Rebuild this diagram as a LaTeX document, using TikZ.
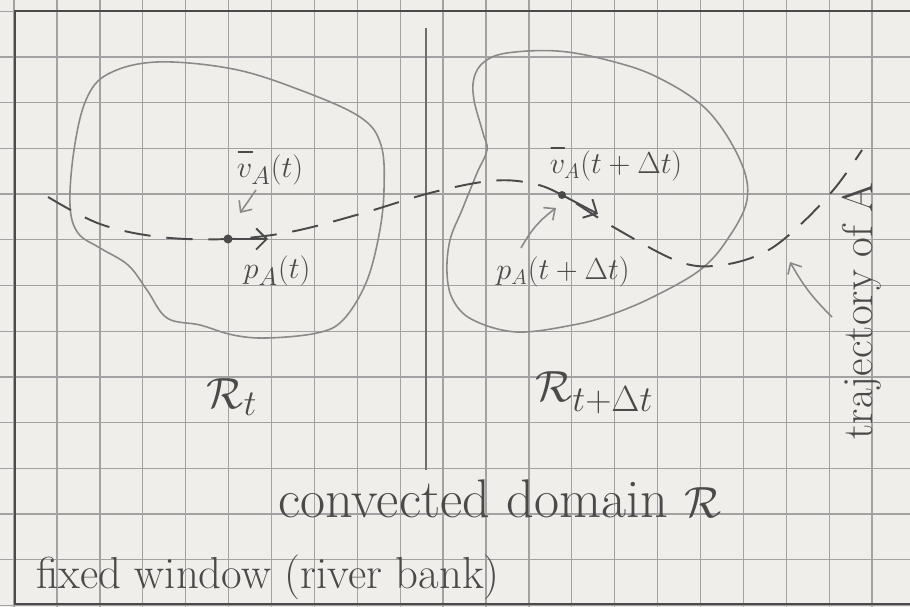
\documentclass[tikz,border=0pt]{standalone}
\usetikzlibrary{arrows.meta}
\definecolor{paper}{HTML}{EFEEEB}
\definecolor{gridgray}{HTML}{A2A2A2}
\definecolor{pencil}{HTML}{4A4A4A}
\definecolor{softpencil}{HTML}{8A8A8A}
\tikzset{
  gridline/.style={gridgray, line width=0.7pt},
  frameline/.style={pencil, line width=1.4pt},
  divider/.style={pencil!80, line width=1.1pt},
  region/.style={softpencil, line width=0.9pt},
  trajline/.style={pencil, line width=1.1pt, dash pattern=on 15pt off 9pt},
  vel/.style={pencil, line width=1.1pt, -{Straight Barb[length=6pt,width=12pt,line width=1.1pt]}},
  pointer/.style={softpencil, line width=0.9pt, -{Straight Barb[length=5pt,width=9pt,line width=0.9pt]}},
  vecbar/.style={pencil, line width=0.8pt, line cap=round},
  label/.style={pencil, inner sep=0pt},
}
\begin{document}
\begin{tikzpicture}[x=0.02cm, y=-0.02cm]
  % paper and bounding box
  \fill[paper] (0,0) rectangle (910,607);
  \useasboundingbox (0,0) rectangle (910,607);

  % squared paper
  \foreach \k in {-1,...,20} \draw[gridline] ({57+42.9*\k},0) -- ({57+42.9*\k},607);
  \foreach \k in {-1,...,12} \draw[gridline] (0,{57+45.7*\k}) -- (910,{57+45.7*\k});

  % fixed window (river bank)
  \draw[frameline] (910,11) -- (15,11) -- (15,604) -- (910,604);
  % divider between the two instants
  \coordinate (divtop) at (426,28);
  \coordinate (divbot) at (426,470);
  \draw[divider] (divtop) -- (divbot);

  % region at time t
  \draw[region] plot[smooth cycle, tension=0.6] coordinates {
    (157,62) (233,69) (300,90) (360,117) (381,145) (384,190) (379,235)
    (366,283) (343,320) (317,333) (267,338) (233,335) (200,325) (167,318)
    (147,290) (128,265) (100,248) (78,233) (70,205) (74,150) (86,100) (108,74)};

  % region at time t + dt
  \draw[region] plot[smooth cycle, tension=0.6] coordinates {
    (507,53) (557,51) (607,60) (657,77) (707,110) (740,160) (747,200)
    (727,240) (700,270) (653,297) (610,315) (573,325) (517,332) (473,320)
    (453,300) (447,273) (450,240) (462,210) (477,173) (487,150) (483,133)
    (474,100) (474,78) (484,62)};

  % material point A and its velocity
  \coordinate (pAt) at (228,239);
  \coordinate (vAt) at (268,239);
  \coordinate (pAdt) at (562,195);
  \coordinate (vAdt) at (598,214);

  % trajectory of A
  \draw[trajline] plot[smooth, tension=0.6] coordinates {
    (48,197) (100,224) (160,237) (228,239) (290,232) (360,214) (430,193)
    (490,181) (530,183) (562,195) (615,228) (680,262) (722,265) (765,252)
    (800,225) (835,188) (862,150)};

  \fill[pencil] (pAt) circle (4.5);
  \fill[pencil] (pAdt) circle (4);
  \draw[vel] (pAt) -- (vAt);
  \draw[vel] (pAdt) -- (vAdt);

  % labels
  \node[label] (lvt) at (270,170) {\fontsize{19}{22}\selectfont $v_{A}(t)$};
  \draw[vecbar] ([xshift=1pt,yshift=1.5pt]lvt.north west) -- ++(8pt,0);
  \node[label] (lpt) at (277,271) {\fontsize{19}{22}\selectfont $p_{A}(t)$};
  \node[label] (lvdt) at (616,166) {\fontsize{18}{22}\selectfont $v_{A}(t+\Delta t)$};
  \draw[vecbar] ([xshift=1pt,yshift=1.5pt]lvdt.north west) -- ++(7.5pt,0);
  \node[label] (lpdt) at (563,272) {\fontsize{17}{20}\selectfont $p_{A}(t+\Delta t)$};
  \node[label] (lRt) at (232,397) {\fontsize{28}{32}\selectfont $\mathcal{R}_{t}$};
  \node[label, anchor=west] (lRdt) at (535,393) {\fontsize{28}{32}\selectfont $\mathcal{R}_{t+\Delta t}$};
  \node[label] (lconv) at (500,499) {\fontsize{31}{36}\selectfont convected domain $\mathcal{R}$};
  \node[label] (lwin) at (268,577) {\fontsize{25.5}{30}\selectfont fixed window (river bank)};
  \node[label, rotate=90] (ltraj) at (862,311) {\fontsize{24.5}{28}\selectfont trajectory of A};

  % pointers from labels
  \coordinate (ptrA) at (240,213);
  \coordinate (ptrB) at (556,208);
  \coordinate (ptrC) at (790,262);
  \draw[pointer] (256,190) -- (ptrA);
  \draw[pointer] (521,248) to[bend left=12] (ptrB);
  \draw[pointer] (832,317) to[bend left=8] (ptrC);
\end{tikzpicture}
\end{document}
